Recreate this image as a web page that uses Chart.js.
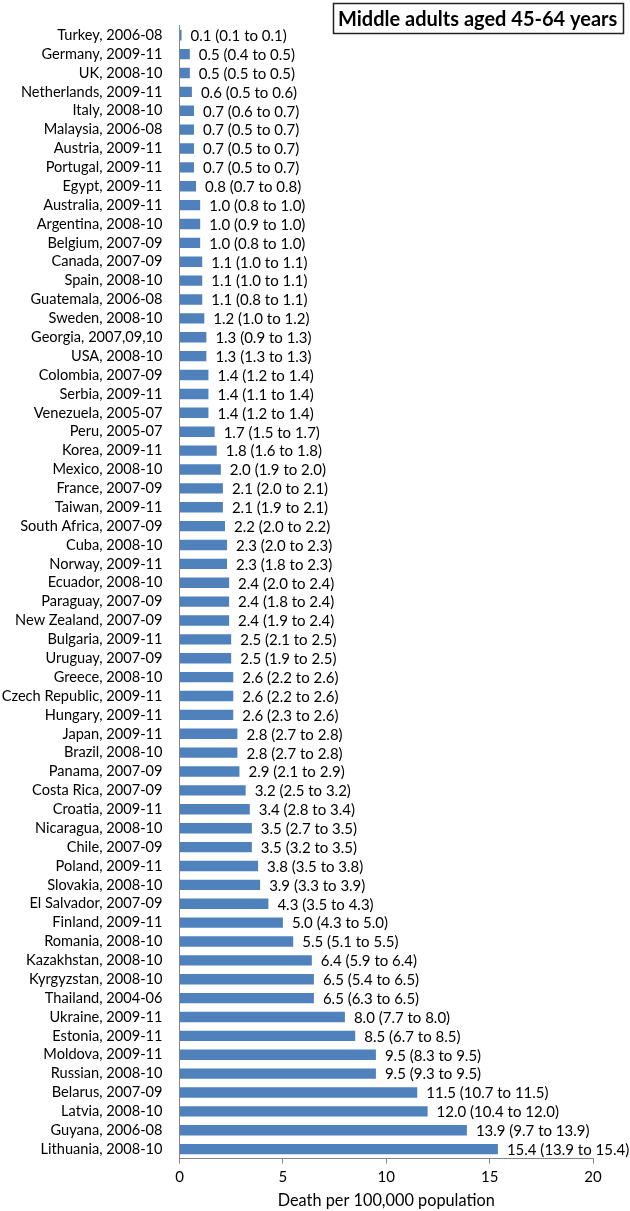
<!DOCTYPE html>
<html>
<head>
<meta charset="utf-8">
<script src="https://cdn.jsdelivr.net/npm/chart.js@4"></script>
<style>
  body { margin: 0; background: #fff; }
  canvas { display: block; }
</style>
</head>
<body>
<canvas id="myChart" width="630" height="1211"></canvas>
<script>
const countries = [
    "Turkey, 2006-08", "Germany, 2009-11", "UK, 2008-10", "Netherlands, 2009-11",
    "Italy, 2008-10", "Malaysia, 2006-08", "Austria, 2009-11", "Portugal, 2009-11",
    "Egypt, 2009-11", "Australia, 2009-11", "Argentina, 2008-10", "Belgium, 2007-09",
    "Canada, 2007-09", "Spain, 2008-10", "Guatemala, 2006-08", "Sweden, 2008-10",
    "Georgia, 2007,09,10", "USA, 2008-10", "Colombia, 2007-09", "Serbia, 2009-11",
    "Venezuela, 2005-07", "Peru, 2005-07", "Korea, 2009-11", "Mexico, 2008-10",
    "France, 2007-09", "Taiwan, 2009-11", "South Africa, 2007-09", "Cuba, 2008-10",
    "Norway, 2009-11", "Ecuador, 2008-10", "Paraguay, 2007-09", "New Zealand, 2007-09",
    "Bulgaria, 2009-11", "Uruguay, 2007-09", "Greece, 2008-10", "Czech Republic, 2009-11",
    "Hungary, 2009-11", "Japan, 2009-11", "Brazil, 2008-10", "Panama, 2007-09",
    "Costa Rica, 2007-09", "Croatia, 2009-11", "Nicaragua, 2008-10", "Chile, 2007-09",
    "Poland, 2009-11", "Slovakia, 2008-10", "El Salvador, 2007-09", "Finland, 2009-11",
    "Romania, 2008-10", "Kazakhstan, 2008-10", "Kyrgyzstan, 2008-10", "Thailand, 2004-06",
    "Ukraine, 2009-11", "Estonia, 2009-11", "Moldova, 2009-11", "Russian, 2008-10",
    "Belarus, 2007-09", "Latvia, 2008-10", "Guyana, 2006-08", "Lithuania, 2008-10"
];

const rates = [
    0.1, 0.5, 0.5, 0.6, 0.7, 0.7, 0.7, 0.7, 0.8, 1.0,
    1.0, 1.0, 1.1, 1.1, 1.1, 1.2, 1.3, 1.3, 1.4, 1.4,
    1.4, 1.7, 1.8, 2.0, 2.1, 2.1, 2.2, 2.3, 2.3, 2.4,
    2.4, 2.4, 2.5, 2.5, 2.6, 2.6, 2.6, 2.8, 2.8, 2.9,
    3.2, 3.4, 3.5, 3.5, 3.8, 3.9, 4.3, 5.0, 5.5, 6.4,
    6.5, 6.5, 8.0, 8.5, 9.5, 9.5, 11.5, 12.0, 13.9, 15.4
];

const lower = [
    0.1, 0.4, 0.5, 0.5, 0.6, 0.5, 0.5, 0.5, 0.7, 0.8,
    0.9, 0.8, 1.0, 1.0, 0.8, 1.0, 0.9, 1.3, 1.2, 1.1,
    1.2, 1.5, 1.6, 1.9, 2.0, 1.9, 2.0, 2.0, 1.8, 2.0,
    1.8, 1.9, 2.1, 1.9, 2.2, 2.2, 2.3, 2.7, 2.7, 2.1,
    2.5, 2.8, 2.7, 3.2, 3.5, 3.3, 3.5, 4.3, 5.1, 5.9,
    5.4, 6.3, 7.7, 6.7, 8.3, 9.3, 10.7, 10.4, 9.7, 13.9
];

const upper = [
    0.1, 0.5, 0.5, 0.6, 0.7, 0.7, 0.7, 0.7, 0.8, 1.0,
    1.0, 1.0, 1.1, 1.1, 1.1, 1.2, 1.3, 1.3, 1.4, 1.4,
    1.4, 1.7, 1.8, 2.0, 2.1, 2.1, 2.2, 2.3, 2.3, 2.4,
    2.4, 2.4, 2.5, 2.5, 2.6, 2.6, 2.6, 2.8, 2.8, 2.9,
    3.2, 3.4, 3.5, 3.5, 3.8, 3.9, 4.3, 5.0, 5.5, 6.4,
    6.5, 6.5, 8.0, 8.5, 9.5, 9.5, 11.5, 12.0, 13.9, 15.4
];

const xTicks = [0, 5, 10, 15, 20];

const chartTitle = "Middle adults aged 45-64 years";
const axisTitle = "Death per 100,000 population";

const FONT = "Lato";
const axisGray = "#868686";

// 數值標籤 (值 + 信賴區間)
const valueLabels = {
    id: "valueLabels",
    afterDatasetsDraw(chart) {
        const c = chart.ctx;
        const meta = chart.getDatasetMeta(0);
        c.save();
        c.font = "15px " + FONT;
        c.fillStyle = "#000";
        c.textBaseline = "middle";
        c.textAlign = "left";
        meta.data.forEach((bar, i) => {
            const txt = rates[i].toFixed(1) + " (" + lower[i].toFixed(1) + " to " + upper[i].toFixed(1) + ")";
            c.fillText(txt, bar.x + 9, bar.y + 1);
        });
        c.restore();
    }
};

// 右上角的標題框
const boxTitle = {
    id: "boxTitle",
    afterDraw(chart) {
        const c = chart.ctx;
        c.save();
        c.strokeStyle = "#222";
        c.lineWidth = 1.5;
        c.strokeRect(333.5, 3.5, 290, 30);
        c.font = "bold 20px " + FONT;
        c.fillStyle = "#000";
        c.textBaseline = "middle";
        c.fillText(chartTitle, 338, 19.5);
        c.restore();
    }
};

const ctx = document.getElementById("myChart");

new Chart(ctx, {
    type: "bar",
    data: {
        labels: countries,
        datasets: [{
            data: rates,
            backgroundColor: "#4F81BD",
            borderWidth: 0,
            barPercentage: 0.55,
            categoryPercentage: 1
        }]
    },
    options: {
        indexAxis: "y",
        responsive: false,
        animation: false,
        layout: {
            padding: { top: 2.5, right: 37, left: 0, bottom: 0 }
        },
        plugins: {
            legend: { display: false },
            tooltip: { enabled: false }
        },
        scales: {
            x: {
                min: 0,
                max: 20,
                afterBuildTicks(scale) {
                    scale.ticks = xTicks.map(v => ({ value: v }));
                },
                afterFit(scale) {
                    scale.height = 52.4;
                },
                grid: {
                    display: true,
                    drawOnChartArea: false,
                    drawTicks: true,
                    tickLength: 5,
                    color: axisGray
                },
                border: { display: true, color: axisGray, width: 1 },
                ticks: {
                    padding: 5,
                    color: "#000",
                    font: { family: FONT, size: 15 }
                },
                title: {
                    display: true,
                    text: axisTitle,
                    color: "#000",
                    font: { family: FONT, size: 16.3 },
                    padding: { top: 0, bottom: 0 }
                }
            },
            y: {
                afterFit(scale) {
                    scale.width = 179.5;
                },
                grid: { display: false, drawTicks: false },
                border: { display: true, color: axisGray, width: 1 },
                ticks: {
                    padding: 17,
                    autoSkip: false,
                    color: "#000",
                    font: { family: FONT, size: 14.6 }
                }
            }
        }
    },
    plugins: [valueLabels, boxTitle]
});
</script>
</body>
</html>
